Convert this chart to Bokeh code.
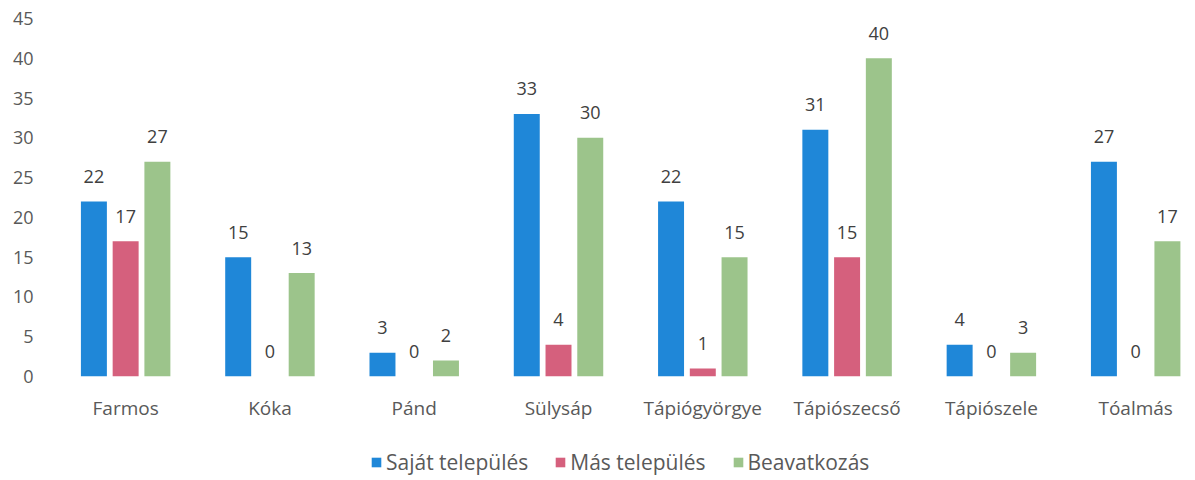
from bokeh.plotting import figure
from bokeh.layouts import column
from bokeh.models import ColumnDataSource, Range1d, FixedTicker, Legend, LegendItem, LabelSet
from bokeh.core.properties import value
from bokeh.transform import dodge
from bokeh.embed import file_html
from bokeh.resources import INLINE

categories = ["Farmos", "Kóka", "Pánd", "Sülysáp", "Tápiógyörgye", "Tápiószecső", "Tápiószele", "Tóalmás"]
sajat = [22, 15, 3, 33, 22, 31, 4, 27]
mas = [17, 0, 0, 4, 1, 15, 0, 0]
beavatkozas = [27, 13, 2, 30, 15, 40, 3, 17]
series_names = ["Saját település", "Más település", "Beavatkozás"]
y_ticks = [0, 5, 10, 15, 20, 25, 30, 35, 40, 45]

colors = ["#1F87D8", "#D5607D", "#9CC48B"]
FONT = "Open Sans"

src = ColumnDataSource(dict(
    x=list(range(len(categories))),
    sajat=sajat, mas=mas, beav=beavatkozas,
    sajat_t=[str(v) for v in sajat], mas_t=[str(v) for v in mas], beav_t=[str(v) for v in beavatkozas],
))

p = figure(width=1190, height=440, output_backend="svg", toolbar_location=None,
           x_range=Range1d(-0.5, 7.38), y_range=Range1d(0, 47.26),
           min_border_left=53, min_border_right=0, min_border_top=0, min_border_bottom=64)

offsets = [-0.22, 0.0, 0.22]
fields = ["sajat", "mas", "beav"]
for off, f, c in zip(offsets, fields, colors):
    p.vbar(x=dodge("x", off, range=p.x_range), top=f, width=0.18, bottom=0,
           source=src, fill_color=c, line_color=None)
    lbl = LabelSet(x=dodge("x", off, range=p.x_range), y=f, text=f + "_t", source=src,
                   text_align="center", text_baseline="middle", y_offset=25,
                   text_font=value(FONT), text_font_size="18px", text_color="#404040")
    p.add_layout(lbl)

p.xaxis.ticker = FixedTicker(ticks=list(range(len(categories))))
p.xaxis.major_label_overrides = {i: c for i, c in enumerate(categories)}
p.yaxis.ticker = FixedTicker(ticks=y_ticks)
for ax in (p.xaxis, p.yaxis):
    ax.axis_line_color = None
    ax.major_tick_line_color = None
    ax.minor_tick_line_color = None
    ax.major_label_text_font = FONT
    ax.major_label_text_color = "#595959"
p.xaxis.major_label_text_font_size = "19px"
p.yaxis.major_label_text_font_size = "18px"
p.xaxis.major_label_standoff = 12
p.yaxis.major_label_standoff = 14
p.xgrid.grid_line_color = None
p.ygrid.grid_line_color = None
p.outline_line_color = None

# legend strip below the chart (its renderers sit outside its visible range)
lg = figure(width=1190, height=36, output_backend="svg", toolbar_location=None,
            x_range=Range1d(-100, -99), y_range=Range1d(-100, -99),
            x_axis_location=None, y_axis_location=None,
            min_border_left=0, min_border_right=0, min_border_top=0, min_border_bottom=0)
lg.xgrid.grid_line_color = None
lg.ygrid.grid_line_color = None
lg.outline_line_color = None
legend_renderers = [lg.vbar(x="x", top=f, width=0.18, source=src, fill_color=c, line_color=None)
                    for f, c in zip(fields, colors)]
legend = Legend(items=[LegendItem(label=n, renderers=[r]) for n, r in zip(series_names, legend_renderers)],
                orientation="horizontal", location=(317, 0),
                label_text_font=FONT, label_text_font_size="21px", label_text_color="#595959",
                glyph_width=12, glyph_height=12, label_standoff=4, spacing=26,
                border_line_color=None, background_fill_alpha=0, padding=0, margin=0)
lg.add_layout(legend, "center")

layout = column(p, lg, spacing=0)
open("out.html", "w").write(file_html(layout, INLINE))
